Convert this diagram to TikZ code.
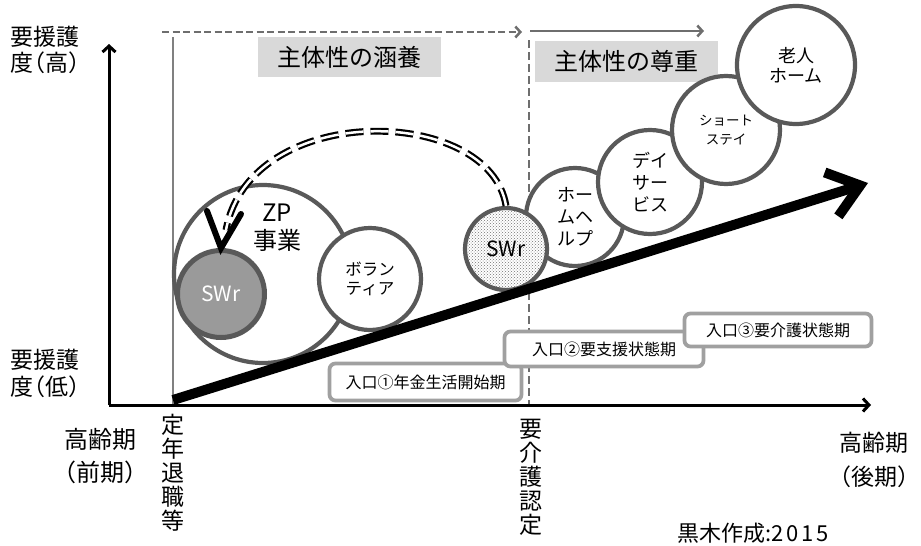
\documentclass[tikz,border=0pt]{standalone}
\usepackage{fontspec}
\setmainfont{Noto Sans CJK JP}
\newfontfamily\halffont[RawFeature=+halt]{Noto Sans CJK JP}
\usetikzlibrary{arrows.meta,patterns}
\definecolor{circ}{HTML}{595959}
\definecolor{boxline}{HTML}{A0A0A0}
\definecolor{guide}{HTML}{808080}
\definecolor{guidedark}{HTML}{6E6E6E}
\definecolor{shade}{HTML}{D9D9D9}
\definecolor{swrfill}{HTML}{9A9A9A}
\begin{document}
\begin{tikzpicture}[x=1pt,y=-1pt,
  bubble/.style={circle, draw=circ, line width=4.2pt, fill=white, inner sep=0pt, align=center},
  entry/.style={draw=boxline, line width=3.8pt, rounded corners=6pt, fill=white, inner sep=0pt, font=\fontsize{16}{19}\selectfont},
  axlabel/.style={align=center, inner sep=0pt},
  band/.style={fill=shade, inner sep=0pt, font=\fontsize{24}{28}\selectfont},
  axisline/.style={line width=3pt, -{Straight Barb[length=6pt,width=13pt,line width=3pt]}},
]
\useasboundingbox (0,0) rectangle (921,546);

% guide lines
\coordinate (O) at (109,405);
\coordinate (ytip) at (109,44);
\coordinate (xtip) at (871,405);
\coordinate (retire) at (173,405);
\coordinate (retiretop) at (173,37);
\coordinate (dashL) at (162,32);
\coordinate (dashR) at (522,32);
\coordinate (solL) at (530,31);
\coordinate (solR) at (704,31);
\coordinate (certtop) at (529,40);
\coordinate (certbot) at (529,405);

\draw[guide, line width=2.6pt] (retire) -- (retiretop);
\draw[guidedark, line width=2.5pt, dash pattern=on 7pt off 3.5pt, -{Straight Barb[length=5pt,width=11pt]}] (dashL) -- (dashR);
\draw[guidedark, line width=2.5pt, -{Straight Barb[length=5pt,width=11pt]}] (solL) -- (solR);
\draw[guidedark, line width=2.8pt, dash pattern=on 8pt off 4pt] (certtop) -- (certbot);

% bands
\node[band, minimum width=183pt, minimum height=40pt] (b1) at (349.5,57) {主体性の涵養};
\node[band, minimum width=183pt, minimum height=41pt] (b2) at (626.5,61.5) {主体性の尊重};

% entry boxes
\node[entry, minimum width=192pt, minimum height=37pt] (e1) at (425.5,382) {入口①年金生活開始期};
\node[entry, minimum width=199pt, minimum height=35pt] (e2) at (604,349) {入口②要支援状態期};
\node[entry, minimum width=187pt, minimum height=33pt] (e3) at (778,330) {入口③要介護状態期};

% axes
\draw[axisline] (O) -- (ytip);
\draw[axisline] (O) -- (xtip);

% left group
\node[bubble, minimum size=178pt] (zp) at (263,274) {};
\node[font=\fontsize{24}{28}\selectfont, align=center, inner sep=0pt] (zplabel) at (277,228) {ZP\\事業};
\node[bubble, fill=swrfill, line width=5pt, minimum size=87pt, text=white, font=\fontsize{21}{24}\selectfont] (swr1) at (221,294) {SWr};
\node[bubble, minimum size=102pt, font=\fontsize{16.5}{19}\selectfont] (vol) at (370,279) {ボラン\\ティア};

% right group
\node[bubble, minimum size=98pt, font=\fontsize{18}{22}\selectfont] (home) at (575,217) {ホー\\ムヘ\\ルプ};
\node[bubble, minimum size=104pt, font=\fontsize{18}{22}\selectfont] (day) at (650,182) {デイ\\サー\\ビス};
\node[bubble, minimum size=108pt, font=\fontsize{13.5}{19}\selectfont] (short) at (726,130) {ショート\\ステイ};
\node[bubble, minimum size=118pt, font=\fontsize{18}{20}\selectfont] (rojin) at (796,65) {老人\\ホーム};
\node[bubble, minimum size=82pt, preaction={fill=white}, pattern=crosshatch dots, pattern color=black!55, font=\fontsize{21}{24}\selectfont] (swr2) at (506,249) {};
\node[inner sep=0pt, font=\fontsize{21}{24}\selectfont] (swr2label) at (swr2.center) {SWr};

% main arrow
\coordinate (mainstart) at (173,400);
\coordinate (maintip) at (868,183);
\draw[line width=10pt, -{Straight Barb[length=30pt,width=46pt,line width=10pt]}] (mainstart) -- (maintip);

% feedback arc
\coordinate (arcend) at (226,230);
\draw[double=white, double distance=2.5pt, line width=2.2pt, dash pattern=on 18pt off 7pt] (swr2.north) .. controls (490,105) and (250,100) .. (arcend);
\draw[line width=6pt, line join=miter, line cap=round] ([shift={(-14,-37)}]swr1.north) -- (swr1.north) -- ([shift={(20,-34)}]swr1.north);

% axis labels
\node[axlabel, font=\halffont\fontsize{23}{26}\selectfont] (yhigh) at (45,50) {要援護\\度（高）};
\node[axlabel, font=\halffont\fontsize{23}{27}\selectfont] (ylow) at (45,373) {要援護\\度（低）};
\node[axlabel, font=\halffont\fontsize{24}{33}\selectfont] (early) at (100,456) {高齢期\\（前期）};
\node[axlabel, font=\halffont\fontsize{23}{34}\selectfont] (late) at (874,460) {高齢期\\（後期）};
\node[axlabel, font=\fontsize{23}{24}\selectfont] (teinen) at (173,473) {定\\年\\退\\職\\等};
\node[axlabel, font=\fontsize{23}{24}\selectfont] (kaigo) at (531,477) {要\\介\\護\\認\\定};
\node[axlabel, font=\fontsize{22}{26}\selectfont] (credit) at (753,533) {黒木作成:2\hspace{2.5pt}0\hspace{2.5pt}1\hspace{2.5pt}5};
\end{tikzpicture}
\end{document}
